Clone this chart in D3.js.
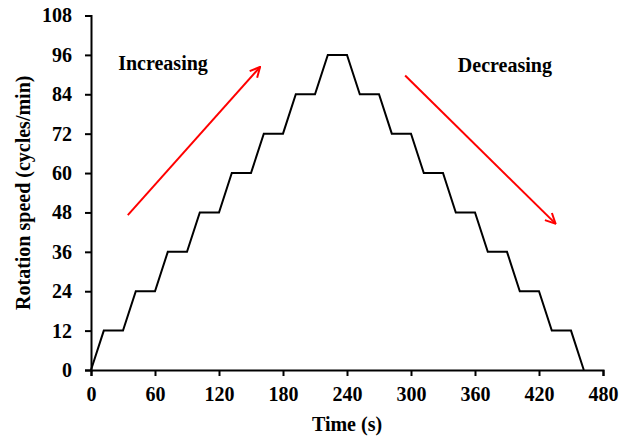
<!DOCTYPE html>
<html>
<head>
<meta charset="utf-8">
<script src="https://cdn.jsdelivr.net/npm/d3@7"></script>
<style>
  body { margin: 0; background: #fff; }
  text { font-family: "Liberation Serif", "Times New Roman", serif; font-weight: bold; }
</style>
</head>
<body>
<svg id="chart" width="633" height="436"></svg>
<script>
// speed profile: time (s) vs rotation speed (cycles/min)
const timeValues  = [0, 12, 30, 42, 60, 72, 90, 102, 120, 132, 150, 162, 180, 192, 210, 222, 240,
                     252, 270, 282, 300, 312, 330, 342, 360, 372, 390, 402, 420, 432, 450, 462];
const speedValues = [0, 12, 12, 24, 24, 36, 36, 48, 48, 60, 60, 72, 72, 84, 84, 96, 96,
                     84, 84, 72, 72, 60, 60, 48, 48, 36, 36, 24, 24, 12, 12, 0];
const xTicks = [0, 60, 120, 180, 240, 300, 360, 420, 480];
const yTicks = [0, 12, 24, 36, 48, 60, 72, 84, 96, 108];

// annotations, in data units
const arrows = [
    {x1: 34.5, y1: 47.2, x2: 158.5, y2: 92.3},
    {x1: 294.5, y1: 89.7, x2: 435.5, y2: 44.6}
];
const labels = [
    {text: "Increasing", x: 67.5, y: 91.5},
    {text: "Decreasing", x: 388, y: 90.9}
];

const svg = d3.select("#chart");
const margin = {left: 91, right: 30, top: 15.5, bottom: 66};
const width = +svg.attr("width"), height = +svg.attr("height");

const x = d3.scaleLinear().domain([0, 480]).range([margin.left, width - margin.right]);
const y = d3.scaleLinear().domain([0, 108]).range([height - margin.bottom, margin.top]);

const points = timeValues.map((t, i) => [t, speedValues[i]]);

// axes
const xAxis = svg.append("g")
    .attr("transform", `translate(0,${y(0)})`)
    .call(d3.axisBottom(x).tickValues(xTicks).tickSizeOuter(0).tickSize(6).tickPadding(11));
const yAxis = svg.append("g")
    .attr("transform", `translate(${x(0)},0)`)
    .call(d3.axisLeft(y).tickValues(yTicks).tickSizeOuter(0).tickSize(6).tickPadding(13));

[xAxis, yAxis].forEach(a => {
    a.select(".domain").attr("stroke", "#000").attr("stroke-width", 2);
    a.selectAll(".tick line").attr("stroke", "#000").attr("stroke-width", 2);
    a.selectAll(".tick text")
        .attr("fill", "#000")
        .style("font-size", "20px")
        .style("font-family", "'Liberation Serif', serif")
        .style("font-weight", "bold");
});

// staircase line
svg.append("path")
    .datum(points)
    .attr("fill", "none")
    .attr("stroke", "#000")
    .attr("stroke-width", 2)
    .attr("stroke-linejoin", "miter")
    .attr("d", d3.line().x(d => x(d[0])).y(d => y(d[1])));

// arrow marker
svg.append("defs").append("marker")
    .attr("id", "vhead")
    .attr("viewBox", "0 0 12 12")
    .attr("refX", 11).attr("refY", 6)
    .attr("markerWidth", 12).attr("markerHeight", 12)
    .attr("markerUnits", "userSpaceOnUse")
    .attr("orient", "auto")
  .append("path")
    .attr("d", "M1,1 L11,6 L1,11")
    .attr("fill", "none")
    .attr("stroke", "#ff0000")
    .attr("stroke-width", 2);

svg.selectAll(".arrow")
    .data(arrows)
    .join("line")
    .attr("class", "arrow")
    .attr("x1", d => x(d.x1)).attr("y1", d => y(d.y1))
    .attr("x2", d => x(d.x2)).attr("y2", d => y(d.y2))
    .attr("stroke", "#ff0000")
    .attr("stroke-width", 2)
    .attr("marker-end", "url(#vhead)");

svg.selectAll(".label")
    .data(labels)
    .join("text")
    .attr("class", "label")
    .attr("x", d => x(d.x)).attr("y", d => y(d.y))
    .attr("text-anchor", "middle")
    .style("font-size", "20px")
    .text(d => d.text);

// axis titles
svg.append("text")
    .attr("x", (x(0) + x(480)) / 2)
    .attr("y", 431)
    .attr("text-anchor", "middle")
    .style("font-size", "20px")
    .text("Time (s)");

svg.append("text")
    .attr("transform", `translate(30,${(y(0) + y(108)) / 2}) rotate(-90)`)
    .attr("text-anchor", "middle")
    .style("font-size", "20px")
    .text("Rotation speed (cycles/min)");
</script>
</body>
</html>
